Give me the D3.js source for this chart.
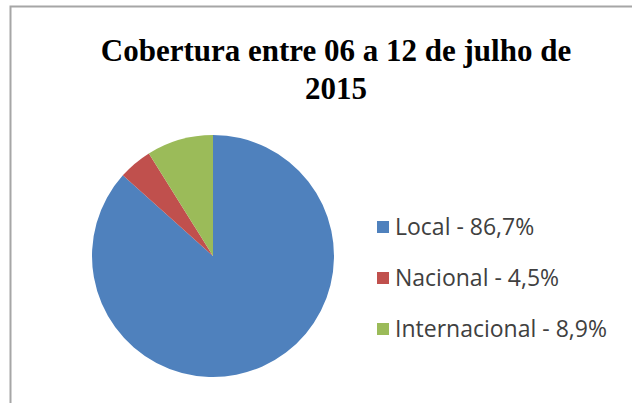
<!DOCTYPE html>
<html>
<head>
<meta charset="utf-8">
<script src="https://cdn.jsdelivr.net/npm/d3@7"></script>
<style>
  body { margin: 0; background: #fff; }
</style>
</head>
<body>
<div id="chart-area"></div>
<script>

var categories = ["Local", "Nacional", "Internacional"];
var values = [86.7, 4.5, 8.9];
var labels = ["Local - 86,7%", "Nacional - 4,5%", "Internacional - 8,9%"];
var colors = ["#4F81BD", "#C0504D", "#9BBB59"];
var titleLines = ["Cobertura entre 06 a 12 de julho de", "2015"];

var width = 632, height = 403;

var svg = d3.select("#chart-area")
    .append("svg")
        .attr("width", width)
        .attr("height", height);

// frame of the chart, cropped on right and bottom
svg.append("path")
    .attr("d", "M10.5," + height + "V6.5H" + width)
    .attr("fill", "none")
    .attr("stroke", "#a6a6a6")
    .attr("stroke-width", 2);

// title
svg.append("g")
    .selectAll("text")
    .data(titleLines)
    .enter()
    .append("text")
        .attr("x", 336)
        .attr("y", function(d, i) { return 61 + i * 38; })
        .attr("text-anchor", "middle")
        .attr("font-family", "Liberation Serif, Times New Roman, serif")
        .attr("font-weight", "bold")
        .attr("font-size", 31)
        .attr("fill", "#000")
        .text(function(d) { return d; });

var radius = 121;
var color = d3.scaleOrdinal().domain(categories).range(colors);

var pie = d3.pie().sort(null).value(function(d) { return d; });
var arc = d3.arc().innerRadius(0).outerRadius(radius);

var g = svg.append("g")
    .attr("transform", "translate(213,256)");

g.selectAll("path")
    .data(pie(values))
    .enter()
    .append("path")
        .attr("d", arc)
        .attr("fill", function(d, i) { return color(categories[i]); });

// legend
var legendY = d3.scalePoint().domain(categories).range([227, 329]);

var legend = svg.append("g")
    .selectAll("g")
    .data(categories)
    .enter()
    .append("g")
        .attr("transform", function(d) { return "translate(377," + legendY(d) + ")"; });

legend.append("rect")
    .attr("x", 0)
    .attr("y", -6)
    .attr("width", 12)
    .attr("height", 12)
    .attr("fill", function(d) { return color(d); });

legend.append("text")
    .attr("x", 18)
    .attr("y", 8)
    .attr("font-family", "Open Sans, sans-serif")
    .attr("font-size", 23)
    .attr("fill", "#404040")
    .text(function(d, i) { return labels[i]; });

</script>
</body>
</html>
